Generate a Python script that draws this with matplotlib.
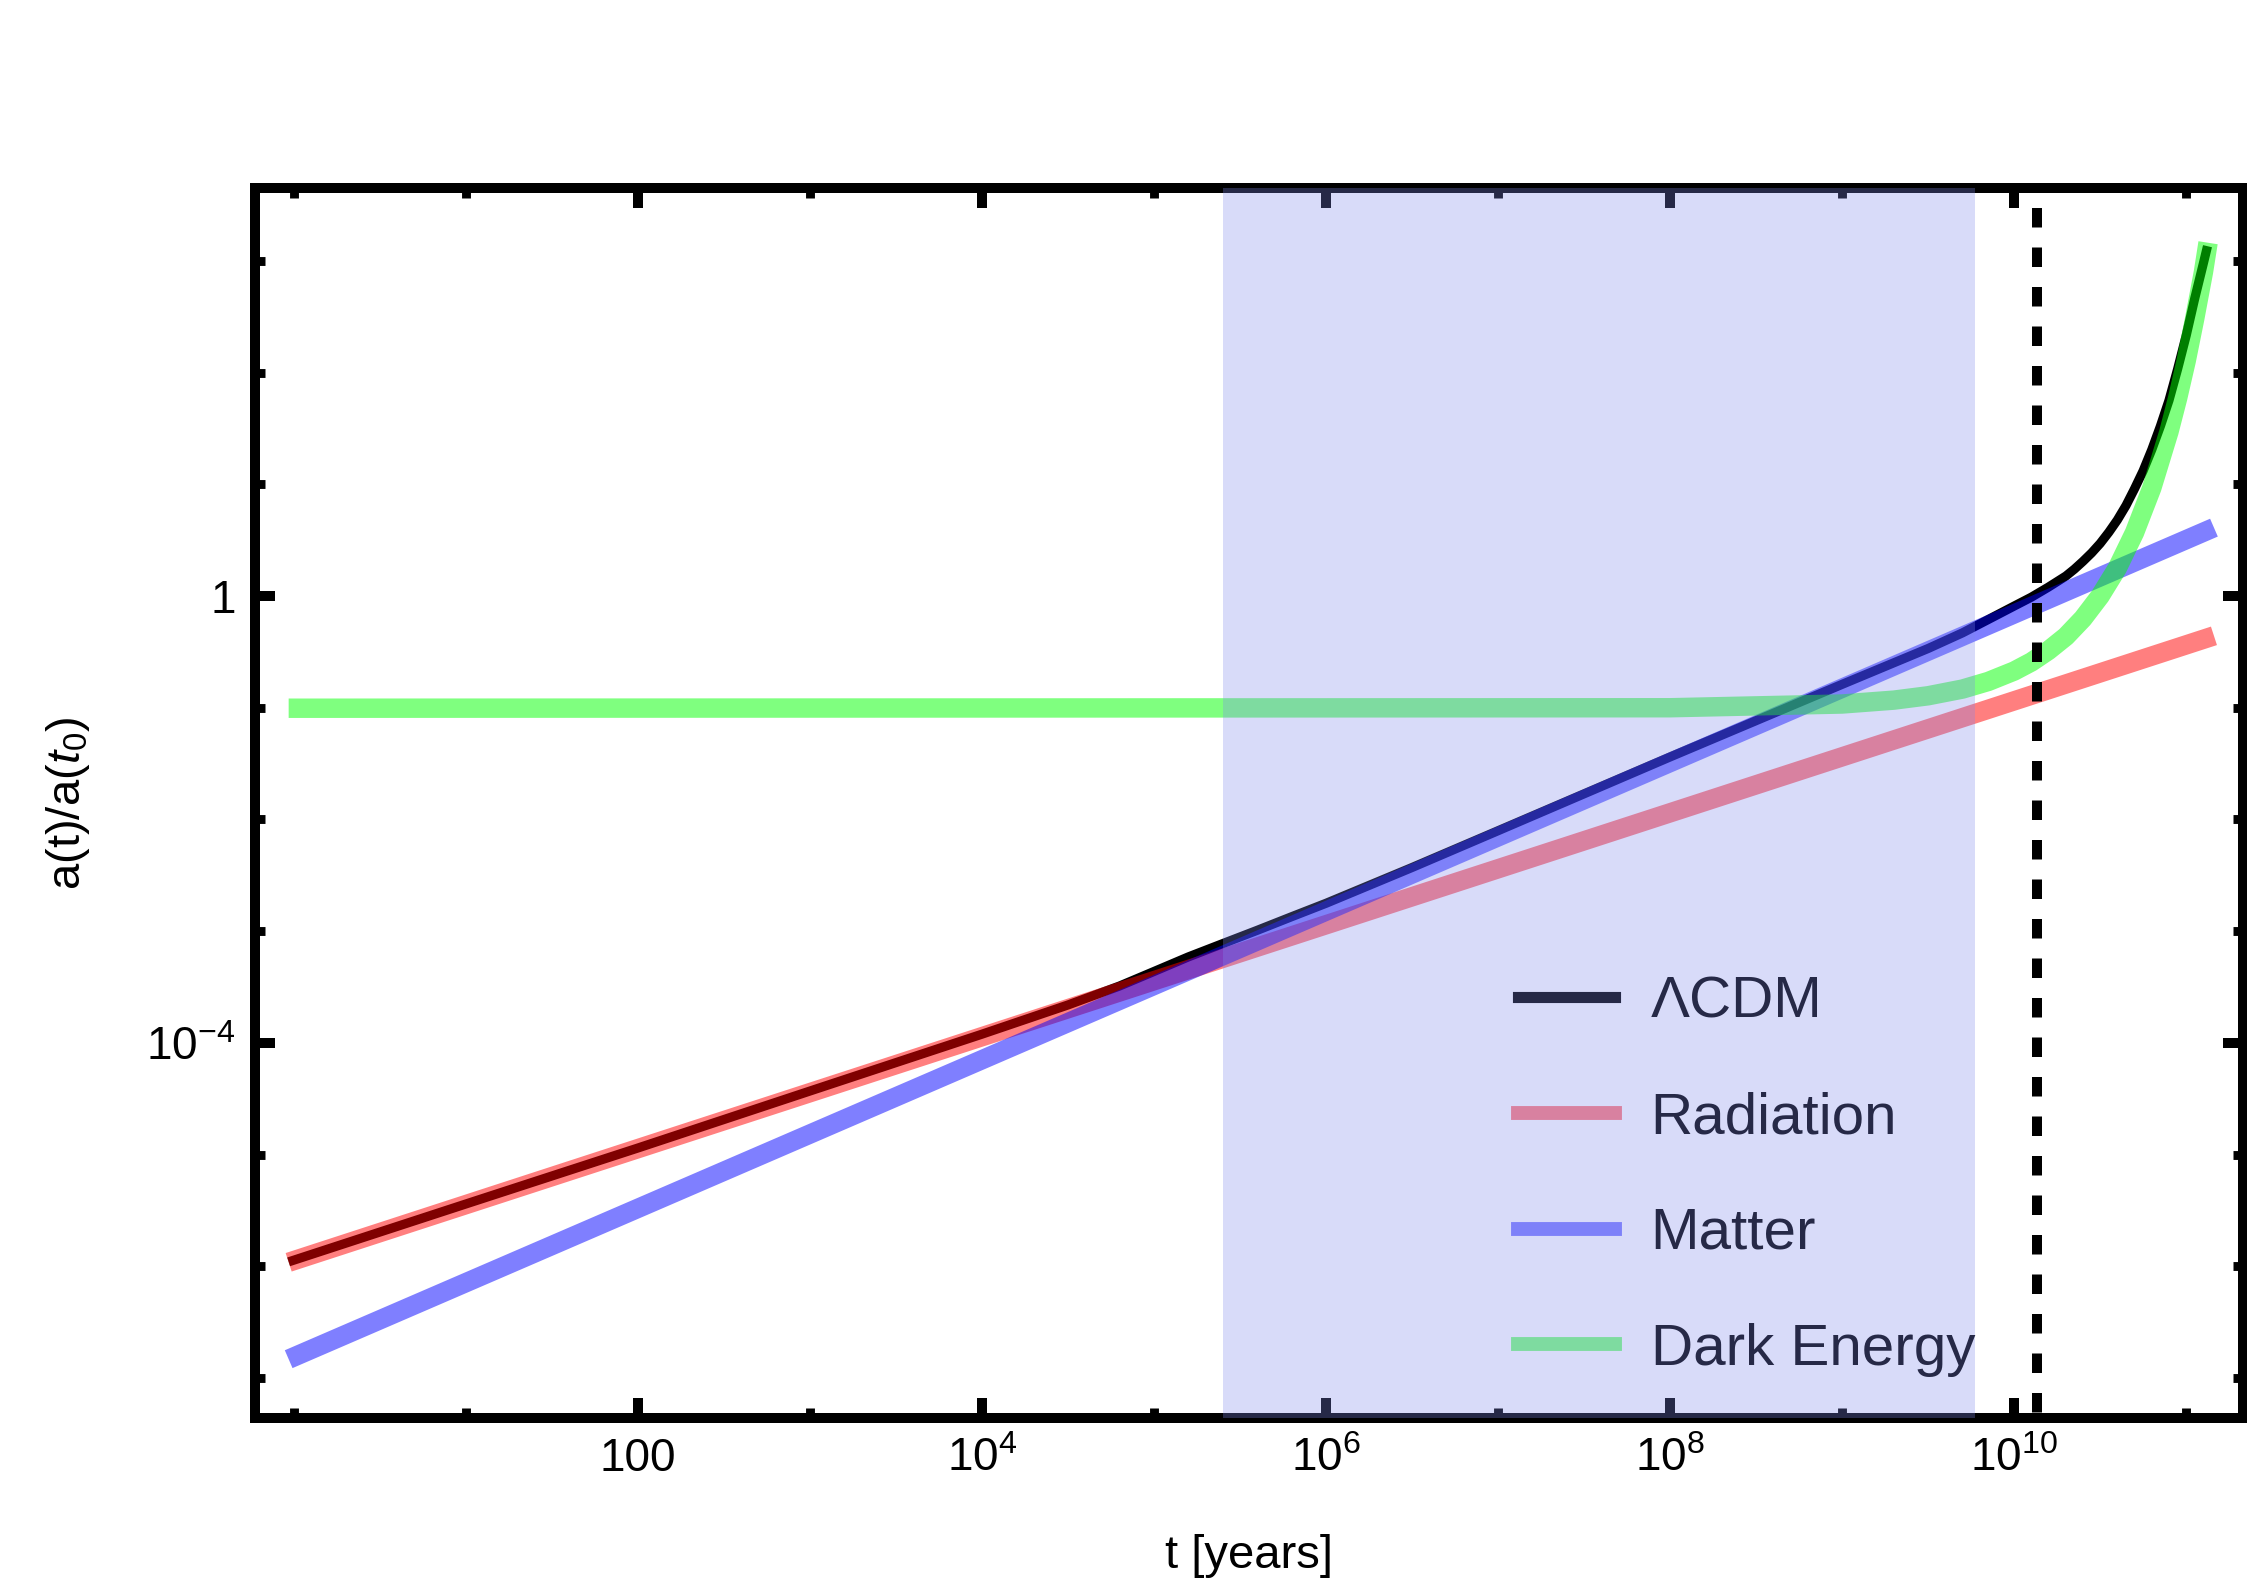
import matplotlib
matplotlib.use("Agg")
import matplotlib.pyplot as plt
from matplotlib.lines import Line2D
from matplotlib.ticker import FixedLocator, FixedFormatter, NullFormatter

plt.rcParams["font.family"] = ["Liberation Sans", "DejaVu Sans"]
plt.rcParams["mathtext.fontset"] = "custom"
plt.rcParams["mathtext.rm"] = "Liberation Sans"
plt.rcParams["mathtext.it"] = "Liberation Sans:italic"

# scale factor a(t)/a(t0)
t_lcdm = [0.93, 10, 100, 1e3, 1e4, 3.16e4, 6.31e4, 1e5, 1.58e5, 2.51e5, 3.98e5,
          6.31e5, 1e6, 3.16e6, 1e7, 1e8, 1e9, 3.16e9, 5.01e9, 7.94e9, 1e10,
          1.26e10, 1.58e10, 2.0e10, 2.24e10, 2.51e10, 2.82e10, 3.16e10, 3.55e10,
          3.98e10, 4.47e10, 5.01e10, 5.62e10, 6.31e10, 7.08e10, 7.94e10, 8.91e10,
          1e11, 1.12e11, 1.26e11, 1.33e11]
a_lcdm = [1.10e-6, 3.63e-6, 1.15e-5, 3.72e-5, 1.20e-4, 2.19e-4, 3.24e-4, 4.37e-4,
          5.89e-4, 7.76e-4, 1.02e-3, 1.35e-3, 1.78e-3, 3.72e-3, 7.94e-3, 0.0363,
          0.162, 0.339, 0.468, 0.676, 0.813, 0.977, 1.20, 1.51, 1.74, 2.04, 2.43,
          2.95, 3.72, 4.79, 6.46, 9.12, 13.2, 20.4, 33.1, 56.2, 107,
          214, 457, 955, 1350]

t_rad = [0.93, 1.45e11]
a_rad = [1.09e-6, 0.44]

t_mat = [0.93, 1.45e11]
a_mat = [1.48e-7, 4.09]

t_de = [0.93, 1e8, 1e9, 2e9, 3.16e9, 5.01e9, 7.08e9, 1e10, 1.26e10, 1.58e10,
        2.0e10, 2.51e10, 3.16e10, 3.98e10, 5.01e10, 6.31e10, 7.94e10, 8.91e10,
        1e11, 1.12e11, 1.26e11, 1.34e11]
a_de = [0.099, 0.100, 0.108, 0.117, 0.128, 0.147, 0.172, 0.213, 0.257, 0.325,
        0.435, 0.628, 1.0, 1.78, 3.70, 9.27, 29.5, 58.7, 127, 302, 794, 1450]

t_today = 1.35e10
matter_era = (2.5e5, 5.9e9)

x_major = [1e2, 1e4, 1e6, 1e8, 1e10]
x_major_labels = ["100", "$10^{4}$", "$10^{6}$", "$10^{8}$", "$10^{10}$"]
y_major = [1e-4, 1]
y_major_labels = ["$10^{-4}$", "1"]

xlim = (10 ** -0.227, 10 ** 11.33)
ylim = (10 ** -7.356, 10 ** 3.651)

fig = plt.figure(figsize=(11.235, 7.96), dpi=200)
ax = fig.add_axes([0.1135, 0.1093, 0.8847, 0.7726])
ax.set_xscale("log")
ax.set_yscale("log")
ax.set_xlim(*xlim)
ax.set_ylim(*ylim)

ax.plot(t_lcdm, a_lcdm, color="black", lw=3.3, solid_capstyle="butt", zorder=2)
ax.plot(t_rad, a_rad, color=(1, 0, 0, 0.5), lw=7, solid_capstyle="butt", zorder=3)
ax.plot(t_mat, a_mat, color=(0, 0, 1, 0.5), lw=7, solid_capstyle="butt", zorder=3)
ax.plot(t_de, a_de, color=(0, 1, 0, 0.5), lw=7, solid_capstyle="butt", zorder=3)

ax.plot([t_today, t_today], [ylim[1], ylim[0]], color="black", lw=3.6,
        linestyle=(1.95, (1.95, 2.0)), dash_capstyle="butt", zorder=4)

ax.axvspan(*matter_era, color=(0.494, 0.533, 0.933), alpha=0.3, lw=0, zorder=6)

handles = [Line2D([], [], color="black", lw=4),
           Line2D([], [], color=(1, 0, 0, 0.5), lw=5),
           Line2D([], [], color=(0, 0, 1, 0.5), lw=5),
           Line2D([], [], color=(0, 1, 0, 0.5), lw=5)]
labels = ["ΛCDM", "Radiation", "Matter", "Dark Energy"]
leg = ax.legend(handles, labels, loc="center left",
                bbox_to_anchor=(0.6757, 0.2613), bbox_transform=fig.transFigure,
                frameon=False, fontsize=21, handlelength=1.65, handletextpad=0.62,
                labelspacing=1.06, borderpad=0, borderaxespad=0)
leg.set_zorder(5)

ax.xaxis.set_major_locator(FixedLocator(x_major))
ax.xaxis.set_major_formatter(FixedFormatter(x_major_labels))
ax.xaxis.set_minor_locator(FixedLocator([10.0 ** k for k in range(0, 12)]))
ax.xaxis.set_minor_formatter(NullFormatter())
ax.yaxis.set_major_locator(FixedLocator(y_major))
ax.yaxis.set_major_formatter(FixedFormatter(y_major_labels))
ax.yaxis.set_minor_locator(FixedLocator([10.0 ** k for k in range(-7, 4)]))
ax.yaxis.set_minor_formatter(NullFormatter())

ax.tick_params(which="both", direction="in", top=True, right=True, labelsize=16.5)
ax.tick_params(which="major", length=7.2, width=3.6, pad=7)
ax.tick_params(which="minor", length=3.6, width=3.2)
for s in ax.spines.values():
    s.set_linewidth(3.6)

ax.set_xlabel("t [years]", fontsize=17)
ax.xaxis.set_label_coords(0.5, -0.094)
ax.set_ylabel("a(t)/a($t_0$)", fontsize=17)
ax.yaxis.set_label_coords(-0.082, 0.5)

fig.savefig("out.png", dpi=200)
